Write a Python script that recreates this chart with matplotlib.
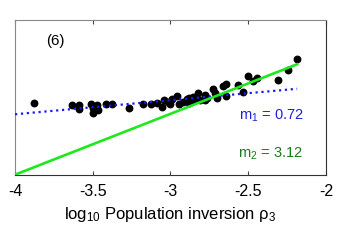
import matplotlib
matplotlib.use('Agg')
import matplotlib.pyplot as plt
import numpy as np

plt.rcParams['font.family'] = ['Liberation Sans', 'DejaVu Sans']
plt.rcParams['mathtext.fontset'] = 'custom'
plt.rcParams['mathtext.rm'] = 'Liberation Sans'
plt.rcParams['mathtext.it'] = 'Liberation Sans:italic'

# measured points (log10 rho3, log10 response)
x_pts = [-3.878, -3.636, -3.586, -3.586, -3.514, -3.500, -3.496, -3.470, -3.464,
         -3.416, -3.374, -3.266, -3.174, -3.123, -3.086, -3.052, -3.041, -3.013,
         -3.002, -2.989, -2.959, -2.942, -2.920, -2.894, -2.883, -2.878, -2.852,
         -2.852, -2.820, -2.809, -2.777, -2.777, -2.762, -2.724, -2.713, -2.702,
         -2.659, -2.640, -2.645, -2.563, -2.536, -2.498, -2.469, -2.442, -2.309,
         -2.245, -2.186]
y_pts = [3.68, 3.58, 3.60, 3.37, 3.63, 3.44, 3.14, 3.57, 3.31,
         3.62, 3.61, 3.41, 3.65, 3.65, 3.66, 3.49, 3.81, 3.75,
         3.62, 3.86, 4.04, 3.61, 3.74, 3.88, 3.92, 3.66, 3.83,
         4.00, 4.17, 3.83, 4.09, 3.83, 3.92, 4.42, 4.17, 3.92,
         4.55, 4.66, 4.06, 4.58, 4.26, 5.04, 4.81, 4.97, 4.88,
         5.37, 5.93]

# fitted lines: slope, intercept at x = -4
m1, b1 = 0.72, 3.10
m2, b2 = 3.12, 0.0
fit_x = [-4.0, -2.185]

fig = plt.figure(figsize=(3.5, 2.45), dpi=100)
ax = fig.add_axes([0.043, 0.287, 0.888, 0.631])

ax.scatter(x_pts, y_pts, s=32, color='k', zorder=2, linewidths=0)
fx = np.array(fit_x)
ax.plot(fx, b1 + m1 * (fx + 4), ':', color='#1a1aff', lw=1.6, zorder=3)
ax.plot(fx, b2 + m2 * (fx + 4), '-', color='#1ee81e', lw=1.9, zorder=3)

ax.set_xlim(-4, -2)
ax.set_ylim(0, 7.93)
ax.set_xticks([-4, -3.5, -3, -2.5, -2])
ax.set_xticklabels(['-4', '-3.5', '-3', '-2.5', '-2'])
ax.set_yticks([])
ax.tick_params(axis='x', direction='in', length=3, top=True, labelsize=11.5, pad=7,
               color='#444')

for s in ['left', 'top']:
    ax.spines[s].set_color('#888888')
for s in ['right', 'bottom']:
    ax.spines[s].set_color('#333333')

ax.text(0.13, 0.865, '(6)', transform=ax.transAxes, fontsize=10.8,
        ha='center', va='center')
ax.text(0.927, 0.379, r'm$_1$ = 0.72', transform=ax.transAxes, fontsize=10.5,
        ha='right', va='center', color='#2020e0')
ax.text(0.927, 0.134, r'm$_2$ = 3.12', transform=ax.transAxes, fontsize=10.5,
        ha='right', va='center', color='#1a7a1a')

ax.set_xlabel(r'log$_{10}$ Population inversion ρ$_3$', fontsize=12, labelpad=4)

fig.savefig('out.png', dpi=100)
